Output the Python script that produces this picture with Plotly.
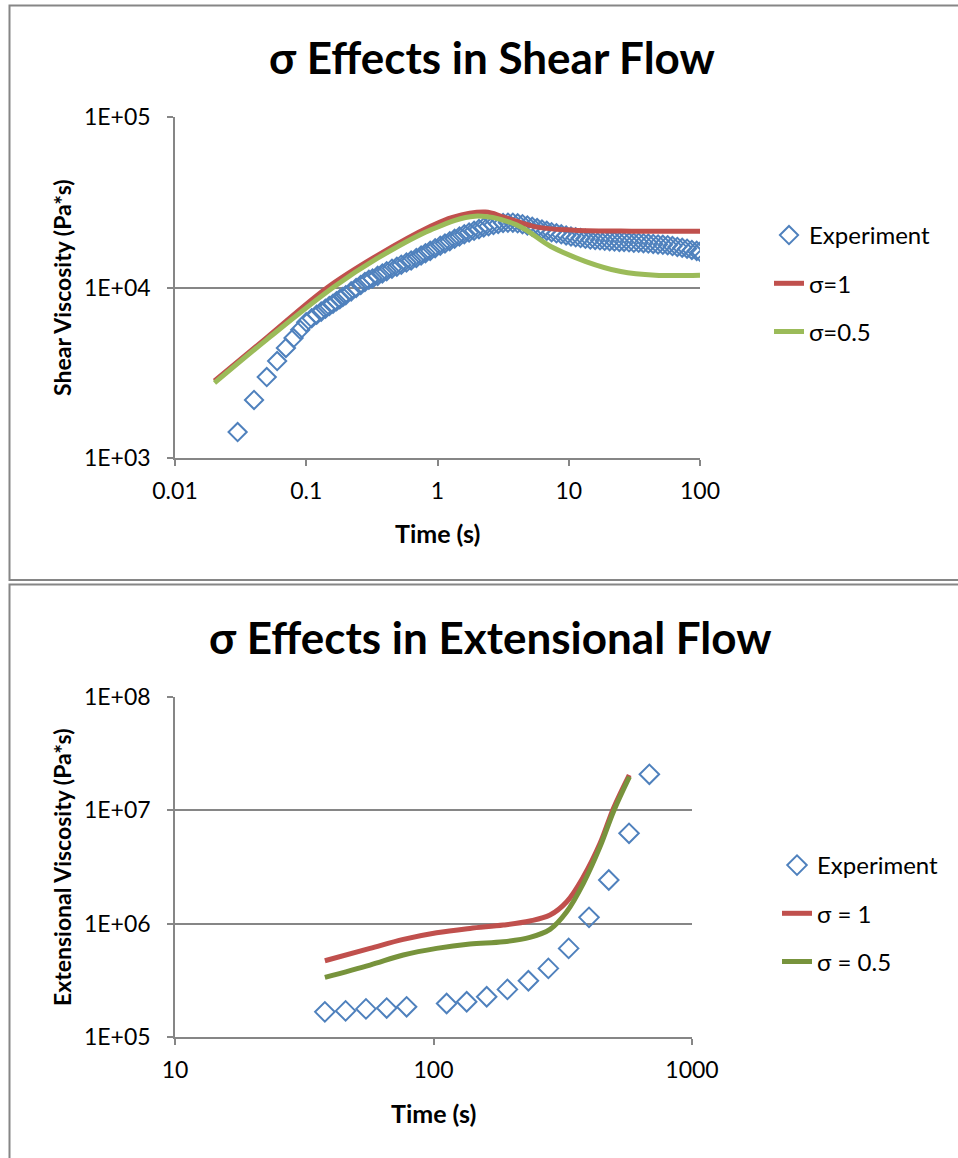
import plotly.graph_objects as go

# ---------------- Data: shear flow ----------------
shear_exp_t = [0.03, 0.04, 0.05, 0.06, 0.07, 0.08, 0.09, 0.10,
               0.11, 0.12, 0.13, 0.14, 0.15, 0.16, 0.17, 0.18, 0.19, 0.20,
               0.22, 0.24, 0.26, 0.28, 0.30,
               0.32, 0.35, 0.38, 0.41, 0.45, 0.49, 0.53, 0.58, 0.63, 0.69,
               0.75, 0.81, 0.88, 0.96, 1.05, 1.14, 1.24, 1.35, 1.47, 1.6,
               1.74, 1.9, 2.07, 2.25, 2.45, 2.67, 2.9, 3.16, 3.44, 3.75,
               4.08, 4.44, 4.84, 5.27, 5.74, 6.25, 6.8, 7.4, 8.06, 8.77,
               9.55, 10.4, 11.3, 12.3, 13.4, 14.6, 15.9, 17.3, 18.8, 20.5,
               22.3, 24.3, 26.4, 28.8, 31.3, 34.1, 37.1, 40.4, 44.0, 47.9,
               52.1, 56.7, 61.7, 67.2, 73.2, 79.7, 86.7, 94.4, 100.0]
shear_exp_eta = [1420, 2190, 2985, 3705, 4420, 5050, 5650, 6250,
                 6600, 6920, 7220, 7500, 7780, 8040, 8300, 8540, 8790, 9020,
                 9490, 9930, 10350, 10760, 11100,
                 11300, 11700, 12100, 12450, 12900, 13250, 13600, 14000, 14400, 14900,
                 15400, 15900, 16400, 17000, 17600, 18100, 18700, 19300, 19900, 20500,
                 21000, 21500, 22000, 22500, 22900, 23300, 23600, 23900, 24000, 24000,
                 23800, 23500, 23100, 22700, 22300, 21900, 21500, 21100, 20800, 20500,
                 20200, 19900, 19700, 19500, 19300, 19100, 19000, 18900, 18800, 18700,
                 18600, 18500, 18500, 18400, 18300, 18300, 18200, 18100, 18000, 17900,
                 17800, 17700, 17500, 17300, 17100, 16900, 16600, 16400, 16200]

shear_s1_t = [0.02, 0.05, 0.145, 0.352, 0.88, 1.3, 2.32, 3.2, 5.7, 10.9, 30, 100]
shear_s1_eta = [2830, 5080, 10000, 15500, 22800, 25800, 27700, 25900, 22600, 21700, 21400, 21400]

shear_s05_t = [0.02, 0.05, 0.16, 0.352, 0.88, 1.93, 4.0, 7.3, 13.5, 24.9, 45.7, 100]
shear_s05_eta = [2755, 4950, 10000, 14900, 21700, 26200, 23300, 17400, 14200, 12400, 11800, 11800]

shear_xticks = [0.01, 0.1, 1, 10, 100]
shear_xlabels = ["0.01", "0.1", "1", "10", "100"]
shear_yticks = [1e3, 1e4, 1e5]
shear_ylabels = ["1E+03", "1E+04", "1E+05"]

# ---------------- Data: extensional flow ----------------
ext_exp_t = [38.0, 45.7, 54.8, 65.9, 78.7, 112.4, 134.4, 160.6, 193.2, 232.9,
             278.2, 333.3, 399.6, 476.5, 570.7, 684.0]
ext_exp_eta = [166700, 170000, 177000, 180000, 184700, 197600, 204600, 226400,
               263000, 313600, 403000, 605000, 1137000, 2427000, 6270000, 20800000]

ext_s1_t = [38.0, 56.8, 76.4, 102.8, 138.3, 186.3, 236.0, 282.3, 327.6, 380.0, 441.0, 496.6, 571.7]
ext_s1_eta = [471000, 605000, 726000, 831000, 908000, 972000, 1055000, 1191000,
              1560000, 2590000, 5110000, 10400000, 20500000]

ext_s05_t = [38.0, 56.8, 76.4, 102.8, 138.3, 186.3, 236.0, 282.3, 327.6, 380.0, 441.0, 496.6, 573.0]
ext_s05_eta = [335600, 431000, 529000, 605000, 661000, 692000, 757000, 891000,
               1274000, 2270000, 4780000, 9730000, 19800000]

ext_xticks = [10, 100, 1000]
ext_xlabels = ["10", "100", "1000"]
ext_yticks = [1e5, 1e6, 1e7, 1e8]
ext_ylabels = ["1E+05", "1E+06", "1E+07", "1E+08"]

# ---------------- Styling ----------------
W, H = 958, 1158
FONT = "Lato"
BLUE = "#4F81BD"
RED = "#C0504D"
GREEN_TOP = "#9BBB59"
GREEN_BOT = "#77933C"
GRID = "#868686"

def px(x):
    return x / W

def py(y):
    return 1 - y / H

fig = go.Figure()

# Top chart traces
fig.add_trace(go.Scatter(x=shear_exp_t, y=shear_exp_eta, mode="markers", name="Experiment",
                         marker=dict(symbol="diamond-open", size=14, color=BLUE, line=dict(width=2, color=BLUE)),
                         xaxis="x", yaxis="y", legend="legend", legendgroup="a1"))
fig.add_trace(go.Scatter(x=shear_s1_t, y=shear_s1_eta, mode="lines", name="σ=1",
                         line=dict(color=RED, width=5, shape="spline", smoothing=1.0),
                         xaxis="x", yaxis="y", legend="legend", legendgroup="a2"))
fig.add_trace(go.Scatter(x=shear_s05_t, y=shear_s05_eta, mode="lines", name="σ=0.5",
                         line=dict(color=GREEN_TOP, width=5, shape="spline", smoothing=1.0),
                         xaxis="x", yaxis="y", legend="legend", legendgroup="a3"))

# Bottom chart traces
fig.add_trace(go.Scatter(x=ext_exp_t, y=ext_exp_eta, mode="markers", name="Experiment",
                         marker=dict(symbol="diamond-open", size=15, color=BLUE, line=dict(width=2, color=BLUE)),
                         xaxis="x2", yaxis="y2", legend="legend2", legendgroup="b1"))
fig.add_trace(go.Scatter(x=ext_s1_t, y=ext_s1_eta, mode="lines", name="σ = 1",
                         line=dict(color=RED, width=5, shape="spline", smoothing=1.0),
                         xaxis="x2", yaxis="y2", legend="legend2", legendgroup="b2"))
fig.add_trace(go.Scatter(x=ext_s05_t, y=ext_s05_eta, mode="lines", name="σ = 0.5",
                         line=dict(color=GREEN_BOT, width=5, shape="spline", smoothing=1.0),
                         xaxis="x2", yaxis="y2", legend="legend2", legendgroup="b3"))

axis_common = dict(showline=True, linecolor=GRID, linewidth=1.5, ticks="outside", ticklen=6,
                   tickcolor=GRID, tickwidth=1.5, tickfont=dict(family=FONT, size=23, color="black"),
                   zeroline=False, fixedrange=True, automargin=False)

fig.update_layout(
    template="none",
    width=W, height=H,
    margin=dict(l=0, r=0, t=0, b=0, autoexpand=False),
    paper_bgcolor="white", plot_bgcolor="white",
    font=dict(family=FONT, color="black"),
    showlegend=True,
    xaxis=dict(type="log", range=[-2, 2], domain=[px(175), px(700)], anchor="y",
               tickvals=shear_xticks, ticktext=shear_xlabels, showgrid=False,
               ticklabelstandoff=6, **axis_common),
    yaxis=dict(type="log", range=[3, 5], domain=[py(458), py(117)], anchor="x",
               tickvals=shear_yticks, ticktext=shear_ylabels, showgrid=True,
               gridcolor=GRID, gridwidth=1.5, ticklabelstandoff=12, **axis_common),
    xaxis2=dict(type="log", range=[1, 3], domain=[px(175), px(692)], anchor="y2",
                tickvals=ext_xticks, ticktext=ext_xlabels, showgrid=False,
                ticklabelstandoff=6, **axis_common),
    yaxis2=dict(type="log", range=[5, 8], domain=[py(1037), py(697)], anchor="x2",
                tickvals=ext_yticks, ticktext=ext_ylabels, showgrid=True,
                gridcolor=GRID, gridwidth=1.5, ticklabelstandoff=12, **axis_common),
    legend=dict(x=px(769), y=py(213), xanchor="left", yanchor="top",
                font=dict(family=FONT, size=24), tracegroupgap=14, traceorder="grouped",
                bgcolor="rgba(0,0,0,0)", borderwidth=0),
    legend2=dict(x=px(777), y=py(843), xanchor="left", yanchor="top",
                 font=dict(family=FONT, size=24), tracegroupgap=14, traceorder="grouped",
                 bgcolor="rgba(0,0,0,0)", borderwidth=0),
)

# Chart borders (Excel chart frames)
fig.add_shape(type="rect", xref="paper", yref="paper", x0=px(9.5), x1=px(1000), y0=py(580), y1=py(5.5),
              line=dict(color=GRID, width=2), layer="below")
fig.add_shape(type="rect", xref="paper", yref="paper", x0=px(9.5), x1=px(1000), y0=py(1200), y1=py(584.5),
              line=dict(color=GRID, width=2), layer="below")

# Titles and axis titles
ann = [
    dict(text="<b>σ Effects in Shear Flow</b>", x=px(492), y=py(57), size=44, angle=0),
    dict(text="<b>σ Effects in Extensional Flow</b>", x=px(490), y=py(637), size=44, angle=0),
    dict(text="<b>Time (s)</b>", x=px(437), y=py(533), size=25, angle=0),
    dict(text="<b>Time (s)</b>", x=px(433), y=py(1113), size=25, angle=0),
    dict(text="<b>Shear Viscosity (Pa*s)</b>", x=px(62), y=py(287), size=23, angle=-90),
    dict(text="<b>Extensional Viscosity (Pa*s)</b>", x=px(62), y=py(867), size=23, angle=-90),
]
for a in ann:
    fig.add_annotation(text=a["text"], x=a["x"], y=a["y"], xref="paper", yref="paper",
                       xanchor="center", yanchor="middle", showarrow=False, textangle=a["angle"],
                       font=dict(family=FONT, size=a["size"], color="black"))

fig.write_html("out.html")
